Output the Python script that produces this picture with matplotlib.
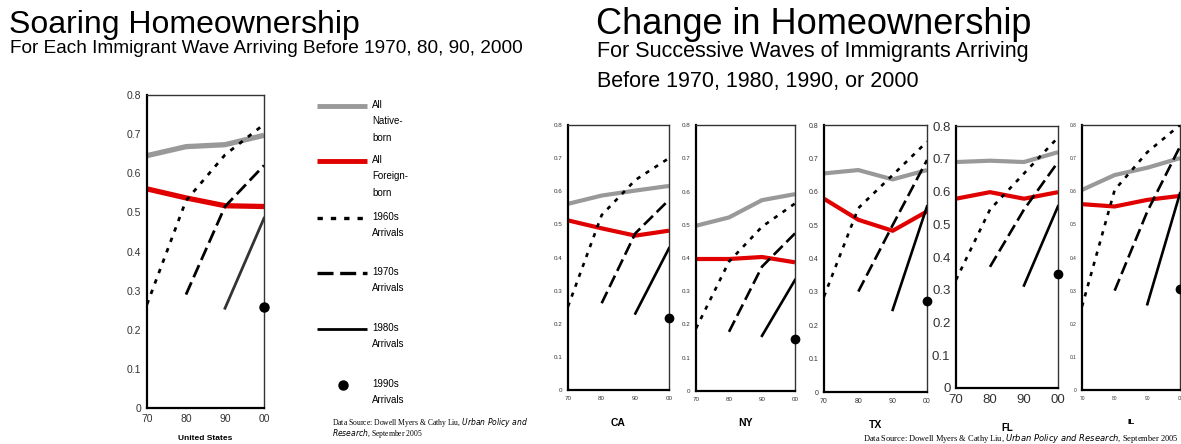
import numpy as np
import matplotlib
matplotlib.use("Agg")
import matplotlib.pyplot as plt
from matplotlib.lines import Line2D

plt.rcParams['font.family'] = ['Liberation Sans', 'DejaVu Sans']

W, H = 1181, 444

decades = [70, 80, 90, 100]
tick_labels = ["70", "80", "90", "00"]

# United States
us_native = [0.645, 0.668, 0.673, 0.697]
us_foreign = [0.560, 0.537, 0.517, 0.515]
us_1960s = [0.265, 0.530, 0.647, 0.725]
us_1970s = [0.290, 0.515, 0.620]
us_1980s = [0.255, 0.485]
us_1990s = 0.258

# states
states = ["CA", "NY", "TX", "FL", "IL"]
native = {
    "CA": [0.562, 0.587, 0.602, 0.616],
    "NY": [0.497, 0.522, 0.574, 0.592],
    "TX": [0.655, 0.665, 0.637, 0.665],
    "FL": [0.690, 0.694, 0.690, 0.720],
    "IL": [0.604, 0.649, 0.671, 0.700],
}
foreign = {
    "CA": [0.512, 0.488, 0.466, 0.481],
    "NY": [0.397, 0.397, 0.403, 0.387],
    "TX": [0.579, 0.516, 0.483, 0.541],
    "FL": [0.578, 0.598, 0.578, 0.598],
    "IL": [0.561, 0.554, 0.574, 0.586],
}
arr_1960s = {
    "CA": [0.252, 0.528, 0.634, 0.700],
    "NY": [0.188, 0.389, 0.494, 0.564],
    "TX": [0.286, 0.551, 0.650, 0.750],
    "FL": [0.330, 0.545, 0.655, 0.765],
    "IL": [0.252, 0.604, 0.718, 0.800],
}
arr_1970s = {
    "CA": [0.262, 0.473, 0.574],
    "NY": [0.178, 0.374, 0.474],
    "TX": [0.301, 0.500, 0.695],
    "FL": [0.370, 0.545, 0.690],
    "IL": [0.300, 0.539, 0.735],
}
arr_1980s = {
    "CA": [0.231, 0.428],
    "NY": [0.166, 0.334],
    "TX": [0.246, 0.556],
    "FL": [0.313, 0.555],
    "IL": [0.259, 0.594],
}
arr_1990s = {"CA": 0.218, "NY": 0.156, "TX": 0.274, "FL": 0.347, "IL": 0.305}

GRAY = "#999999"
RED = "#e00000"
dot_dash = (0, (1.6, 2.4))
long_dash = (0, (4.8, 2.0))


def px_axes(fig, x0, y0, x1, y1):
    return fig.add_axes([x0 / W, 1 - y1 / H, (x1 - x0) / W, (y1 - y0) / H])


def draw_panel(ax, nat, fb, d60, d70, d80, d90, thick, thin, c80, tick_fs, ms):
    ax.plot(decades, nat, color=GRAY, lw=thick, solid_capstyle='butt', zorder=2)
    ax.plot(decades, fb, color=RED, lw=thick, solid_capstyle='butt', zorder=2)
    ax.plot(decades, d60, color="black", lw=thin, ls=dot_dash, zorder=3)
    ax.plot(decades[1:], d70, color="black", lw=thin, ls=long_dash, zorder=3)
    ax.plot(decades[2:], d80, color=c80, lw=thin, zorder=3)
    ax.plot([decades[-1]], [d90], "o", color="black", ms=ms, clip_on=False, zorder=4)
    ax.set_xlim(70, 100)
    ax.set_ylim(0, 0.8)
    ax.set_xticks(decades)
    ax.set_xticklabels(tick_labels)
    ax.set_yticks(np.arange(0, 0.81, 0.1))
    ax.set_yticklabels(["0"] + ["%.1f" % v for v in np.arange(0.1, 0.81, 0.1)])
    ax.tick_params(length=0, labelsize=tick_fs, colors="#333333", pad=4)
    for side in ["left", "bottom"]:
        ax.spines[side].set_linewidth(1.6)
    for side in ["right", "top"]:
        ax.spines[side].set_linewidth(1.0)
        ax.spines[side].set_color("#333333")


fig = plt.figure(figsize=(W / 100, H / 100), dpi=100)

# ---- left: United States
ax = px_axes(fig, 147, 95, 264, 408)
draw_panel(ax, us_native, us_foreign, us_1960s, us_1970s, us_1980s, us_1990s,
           3.8, 2.0, "#333333", 7.5, 6.5)
fig.text(205 / W, 1 - 440 / H, "United States", ha="center",
         va="baseline", fontsize=6, fontweight="bold")

fig.text(9 / W, 1 - 33 / H, "Soaring Homeownership", fontsize=23, va="baseline")
fig.text(10 / W, 1 - 53 / H,
         "For Each Immigrant Wave Arriving Before 1970, 80, 90, 2000",
         fontsize=13.7, va="baseline")

# legend
leg = fig.add_axes([0, 0, 1, 1], zorder=-1)
leg.set_xlim(0, W)
leg.set_ylim(H, 0)
leg.axis("off")
legend_items = [
    (GRAY, 3.5, "-", "All\nNative-\nborn", 106, "line"),
    (RED, 3.5, "-", "All\nForeign-\nborn", 161, "line"),
    ("black", 2.4, dot_dash, "1960s\nArrivals", 218, "line"),
    ("black", 2.4, long_dash, "1970s\nArrivals", 273, "line"),
    ("black", 2.0, "-", "1980s\nArrivals", 329, "line"),
    ("black", 0, "-", "1990s\nArrivals", 385, "dot"),
]
for color, lw, ls, label, ypos, kind in legend_items:
    if kind == "line":
        leg.add_line(Line2D([317, 367], [ypos, ypos], color=color, lw=lw, ls=ls,
                            solid_capstyle='butt'))
    else:
        leg.plot([343], [ypos], "o", color="black", ms=6.5)
    leg.text(372, ypos - 6, label, fontsize=7, va="top", ha="left",
             linespacing=1.8)

fig.text(332 / W, 1 - 425 / H,
         "Data Source: Dowell Myers & Cathy Liu, $\\it{Urban\\ Policy\\ and}$",
         fontsize=5.5, family="Liberation Serif", va="baseline")
fig.text(332 / W, 1 - 436 / H, "$\\it{Research}$, September 2005",
         fontsize=5.5, family="Liberation Serif", va="baseline")

# ---- right: states
fig.text(596 / W, 1 - 34 / H, "Change in Homeownership", fontsize=26, va="baseline")
fig.text(597 / W, 1 - 57 / H, "For Successive Waves of Immigrants Arriving",
         fontsize=15.5, va="baseline")
fig.text(597 / W, 1 - 87 / H, "Before 1970, 1980, 1990, or 2000",
         fontsize=15.5, va="baseline")

panel_px = {
    "CA": (568, 125, 669, 390),
    "NY": (696, 125, 795, 391),
    "TX": (824, 125, 927, 392),
    "FL": (956, 126, 1058, 388),
    "IL": (1082, 125, 1180, 390),
}
tick_size = {"CA": 4.5, "NY": 4.5, "TX": 5, "FL": 9.5, "IL": 3.5}
label_y = {"CA": 426, "NY": 426, "TX": 428, "FL": 431, "IL": 424}
label_fs = {"CA": 7.5, "NY": 7.5, "TX": 7.5, "FL": 7, "IL": 6}

for st in states:
    x0, y0, x1, y1 = panel_px[st]
    ax = px_axes(fig, x0, y0, x1, y1)
    draw_panel(ax, native[st], foreign[st], arr_1960s[st], arr_1970s[st],
               arr_1980s[st], arr_1990s[st], 3.0, 1.9, "black", tick_size[st], 6)
    fig.text((x0 + x1) / 2 / W, 1 - label_y[st] / H, st, ha="center",
             va="baseline", fontsize=label_fs[st], fontweight="bold")

fig.text(1178 / W, 1 - 441 / H,
         "Data Source: Dowell Myers & Cathy Liu, $\\it{Urban\\ Policy\\ and\\ Research}$, September 2005",
         fontsize=6, family="Liberation Serif", va="baseline", ha="right")

fig.savefig("out.png", dpi=100)
